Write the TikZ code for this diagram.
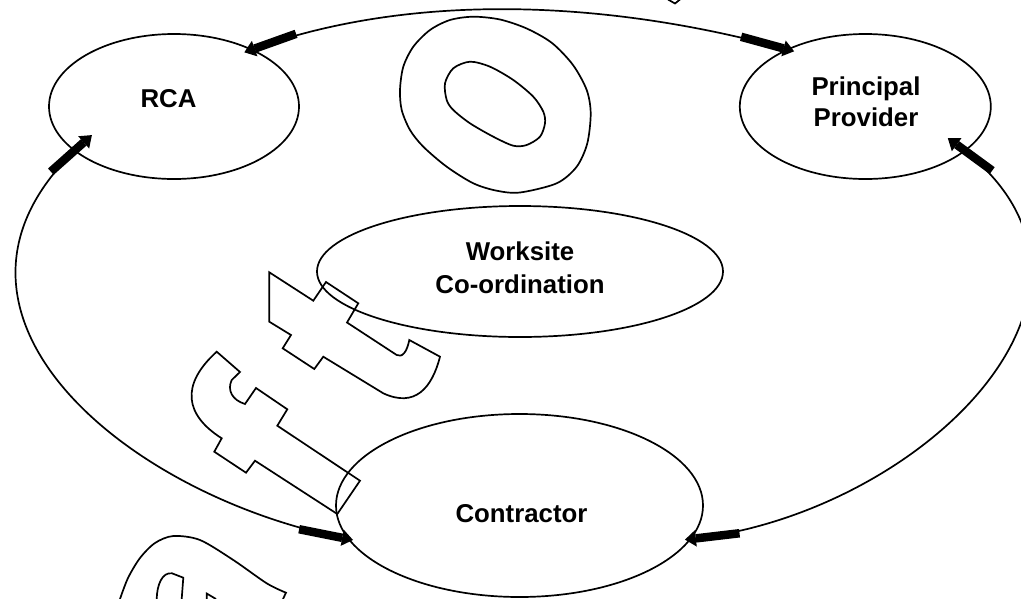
\documentclass[tikz,border=0pt]{standalone}
\usepackage{fontspec}
\setmainfont{Liberation Sans}
\usetikzlibrary{arrows.meta,shapes.geometric}

\tikzset{
  party/.style={draw, ellipse, inner sep=0pt},
  caption/.style={font=\bfseries\fontsize{25.8}{33}\selectfont, align=center, inner sep=0pt},
  link/.style={arrows={Triangle[length=11pt,width=16pt,sep=0pt] Rectangle[length=44pt,width=8.5pt,sep=0pt]}-{Rectangle[length=44pt,width=8.5pt,sep=0pt] Triangle[length=11pt,width=16pt,sep=0pt]}},
  wmline/.style={line join=miter}
}

\begin{document}
\begin{tikzpicture}[x=1pt, y=1pt, line width=1.7pt]
\useasboundingbox (0,0) rectangle (1021,-598);
\clip (0,0) rectangle (1021,-598);

% outlined watermark letters
\draw[wmline] plot[smooth cycle] coordinates {(400,-90) (403.3,-66.7) (413.3,-46.7) (430,-30) (450,-20) (473.3,-16.7) (500,-19.5) (526.7,-28.5) (552,-43) (573,-65) (586.7,-90) (590.7,-113.3) (587.3,-143.3) (576.7,-166.7) (556.7,-183.3) (520,-192.5) (496.7,-190.7) (473.3,-183.3) (446.7,-166.7) (423.3,-146.7) (410,-130) (401.7,-110)};
\draw[wmline] plot[smooth cycle] coordinates {(446.7,-100) (445,-83.3) (453.3,-68.3) (470,-61.7) (490,-66.7) (513.3,-80) (533.3,-96.7) (543.3,-111.7) (545,-123.3) (540,-136.7) (526.7,-145) (513.3,-145.7) (493.3,-136.7) (470,-123.3) (453.3,-110)};
\draw[wmline] (668,0.5) -- (675,-3.5) -- (680,0.5);
\draw[wmline] (269.3,-272.3) -- (313.3,-300.7) -- (326,-282) -- (358.3,-303.3) -- (347,-322.5)
  -- (396.7,-355) .. controls (402,-358) and (407,-352) .. (409.3,-340)
  -- (440,-356.7) .. controls (432,-388) and (415,-408) .. (383.3,-393.3)
  -- (323.3,-356.7) -- (314.3,-369) -- (282.7,-348.3) -- (291,-335) -- (269.3,-321.7) -- cycle;
\draw[wmline] (216.7,-351.7) -- (240,-372) -- (231.7,-380) .. controls (227,-390) and (232,-400) .. (245,-404)
  -- (256,-388) -- (287.3,-409.3) -- (277.3,-425.7) -- (360,-480.7) -- (337.3,-514) -- (255,-460.7)
  -- (246,-472.7) -- (214.3,-451.7) -- (221.7,-438.3) .. controls (185,-415) and (180,-385) .. cycle;
\draw[wmline] plot[smooth] coordinates {(120,-599) (128,-578) (140,-558) (155,-543) (173.3,-536) (200,-540) (233.3,-560) (266.7,-583.3) (286,-592.7)} -- (283,-599);
\draw[wmline] (156.7,-599) .. controls (157,-585) and (162,-572) .. (172,-573.3) -- (183.3,-577.7) -- (181.7,-599);
\draw[wmline] (206.7,-599) -- (206.7,-593.5) -- (216,-599);

% parties
\node[party, minimum width=250pt, minimum height=145pt] (rca) at (174,-106.5) {};
\node[party, minimum width=251pt, minimum height=145pt] (pp) at (865.3,-106.5) {};
\node[party, minimum width=406pt, minimum height=131pt] (ws) at (520,-271.5) {};
\node[party, minimum width=367pt, minimum height=183pt] (con) at (519.5,-505.5) {};

\node[caption] (rcaText) at (168.5,-99) {RCA};
\node[caption, font=\bfseries\fontsize{25.8}{31}\selectfont] (ppText) at (866,-102) {Principal\\Provider};
\node[caption] (wsText) at (520,-267.5) {Worksite\\Co-ordination};
\node[caption] (conText) at (521.5,-513.5) {Contractor};

% connectors
\draw[link, shorten <=-9pt, shorten >=-8pt] (rca.36) to[out=19.65, in=164.7, looseness=0.85] (pp.144);
\draw[link, shorten <=-24pt, shorten >=-5.5pt] (rca.204) to[out=221.7, in=168.7, looseness=1.25] (con.191);
\draw[link, shorten <=-22pt, shorten >=-6.5pt] (pp.336) to[out=-36.2, in=6.7, looseness=1.25] (con.349);
\end{tikzpicture}
\end{document}
